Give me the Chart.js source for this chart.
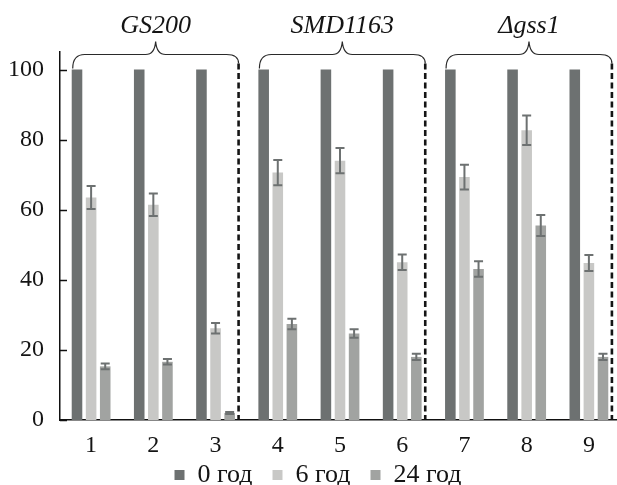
<!DOCTYPE html>
<html>
<head>
<meta charset="utf-8">
<script src="https://cdn.jsdelivr.net/npm/chart.js@4.4.1/dist/chart.umd.min.js"></script>
<style>
  html, body { margin: 0; padding: 0; overflow: hidden; background: #fff; width: 617px; height: 485px; }
  #wrap { width: 622px; height: 485px; }
</style>
</head>
<body>
<div id="wrap"><canvas id="c" width="622" height="485"></canvas></div>
<script>
// ---- data ----
const categories = ['1', '2', '3', '4', '5', '6', '7', '8', '9'];
const seriesNames = ['0 год', '6 год', '24 год'];
const values0h = [100, 100, 100, 100, 100, 100, 100, 100, 100];
const values6h = [63.5, 61.4, 26.2, 70.6, 74.0, 45.0, 69.3, 82.7, 44.8];
const values24h = [15.3, 16.6, 2.0, 27.4, 24.7, 18.0, 43.1, 55.5, 18.0];
const errors0h = [0, 0, 0, 0, 0, 0, 0, 0, 0];
const errors6h = [3.3, 3.2, 1.5, 3.6, 3.6, 2.2, 3.5, 4.2, 2.3];
const errors24h = [0.8, 0.8, 0.3, 1.5, 1.2, 0.9, 2.2, 3.0, 0.9];
const yTicks = [0, 20, 40, 60, 80, 100];
const groupNames = ['GS200', 'SMD1163', 'Δgss1'];
const groupStarts = [0, 3, 6];
const groupEnds = [2, 5, 8];

const colDark = '#6d7171';
const colLight = '#c8c8c6';
const colMid = '#a1a3a1';
const textCol = '#141414';
const serif = "'Liberation Serif', 'Times New Roman', Times, serif";

const errorBars = {
  id: 'errorBars',
  afterDatasetsDraw(chart) {
    const ctx = chart.ctx;
    const y = chart.scales.y;
    chart.data.datasets.forEach((ds, di) => {
      if (!ds.errors) return;
      const meta = chart.getDatasetMeta(di);
      meta.data.forEach((bar, i) => {
        const e = ds.errors[i];
        if (!e) return;
        const v = ds.data[i];
        const yt = y.getPixelForValue(v + e);
        const yb = y.getPixelForValue(v - e);
        ctx.save();
        ctx.strokeStyle = colDark;
        ctx.lineWidth = 2;
        ctx.beginPath();
        ctx.moveTo(bar.x, yt); ctx.lineTo(bar.x, yb);
        ctx.moveTo(bar.x - 4.5, yt); ctx.lineTo(bar.x + 4.5, yt);
        ctx.moveTo(bar.x - 4.5, yb); ctx.lineTo(bar.x + 4.5, yb);
        ctx.stroke();
        ctx.restore();
      });
    });
  }
};

const legendShift = {
  id: 'legendShift',
  afterLayout(chart) {
    const lg = chart.legend;
    if (!lg) return;
    lg.left += 8; lg.right += 8;
    lg.top = 442; lg.bottom = chart.height;
    lg.height = lg.bottom - lg.top;
  }
};

const decorations = {
  id: 'decorations',
  afterDraw(chart) {
    const ctx = chart.ctx;
    const x = chart.scales.x;
    const y = chart.scales.y;
    const area = chart.chartArea;
    const catW = x.getPixelForValue(1) - x.getPixelForValue(0);
    const meta0 = chart.getDatasetMeta(0);
    const yTop = y.getPixelForValue(100);
    // inward y ticks
    ctx.save();
    ctx.strokeStyle = '#111';
    ctx.lineWidth = 1.5;
    yTicks.forEach(t => {
      const py = Math.round(y.getPixelForValue(t)) + 0.5;
      ctx.beginPath();
      ctx.moveTo(area.left, py);
      ctx.lineTo(area.left + 7, py);
      ctx.stroke();
    });
    ctx.restore();

    groupNames.forEach((name, g) => {
      const firstBar = meta0.data[groupStarts[g]];
      const x0 = firstBar.x - firstBar.width / 2 + 1;
      const x1 = x.getPixelForValue(groupEnds[g]) + 0.37 * catW;
      const xc = (x0 + x1) / 2;
      const yLine = yTop - 15;
      const yTip = yTop - 28;
      // dashed separator
      ctx.save();
      ctx.strokeStyle = '#151515';
      ctx.lineWidth = 2.6;
      ctx.setLineDash([6, 3.5]);
      ctx.beginPath();
      ctx.moveTo(x1, yTop - 6);
      ctx.lineTo(x1, area.bottom);
      ctx.stroke();
      ctx.restore();
      // brace
      ctx.save();
      ctx.strokeStyle = '#2a2a2a';
      ctx.lineWidth = 1.2;
      ctx.beginPath();
      ctx.moveTo(x0, yTop - 1);
      ctx.quadraticCurveTo(x0, yLine, x0 + 12, yLine);
      ctx.lineTo(xc - 10, yLine);
      ctx.quadraticCurveTo(xc - 1, yLine, xc, yTip);
      ctx.quadraticCurveTo(xc + 1, yLine, xc + 10, yLine);
      ctx.lineTo(x1 - 12, yLine);
      ctx.quadraticCurveTo(x1, yLine, x1, yTop - 6);
      ctx.stroke();
      ctx.restore();
      // label
      ctx.save();
      ctx.fillStyle = textCol;
      ctx.font = 'italic 26px ' + serif;
      ctx.textAlign = 'center';
      ctx.textBaseline = 'alphabetic';
      ctx.fillText(name, xc, yTip - 9);
      ctx.restore();
    });
  }
};

function build() {
  new Chart(document.getElementById('c'), {
    type: 'bar',
    data: {
      labels: categories,
      datasets: [
        { label: seriesNames[0], data: values0h, errors: errors0h, backgroundColor: colDark },
        { label: seriesNames[1], data: values6h, errors: errors6h, backgroundColor: colLight },
        { label: seriesNames[2], data: values24h, errors: errors24h, backgroundColor: colMid }
      ]
    },
    options: {
      responsive: false,
      devicePixelRatio: 1,
      animation: false,
      categoryPercentage: 0.68,
      barPercentage: 0.75,
      layout: { padding: { left: 0, right: 2, top: 52, bottom: 0 } },
      plugins: {
        legend: {
          position: 'bottom',
          maxHeight: 25,
          labels: {
            boxWidth: 10,
            boxHeight: 10,
            padding: 20,
            color: textCol,
            font: { family: serif, size: 26, lineHeight: 1.0 }
          }
        },
        tooltip: { enabled: false }
      },
      scales: {
        x: {
          grid: { display: false, drawTicks: false },
          border: { display: true, color: '#111', width: 1.5 },
          ticks: { color: textCol, padding: 11, font: { family: serif, size: 24 } },
          afterFit(scale) { scale.height = 40; }
        },
        y: {
          min: 0,
          max: 105,
          grid: { display: false, drawTicks: false },
          border: { display: true, color: '#111', width: 1.5 },
          ticks: { stepSize: 20, color: textCol, padding: 16, font: { family: serif, size: 24 } },
          afterBuildTicks(scale) { scale.ticks = yTicks.map(v => ({ value: v })); },
          afterFit(scale) { scale.width = 60; }
        }
      }
    },
    plugins: [legendShift, errorBars, decorations]
  });
}

Promise.all([
  document.fonts.load("24px 'Liberation Serif'"),
  document.fonts.load("italic 26px 'Liberation Serif'")
]).then(build, build);
</script>
</body>
</html>
